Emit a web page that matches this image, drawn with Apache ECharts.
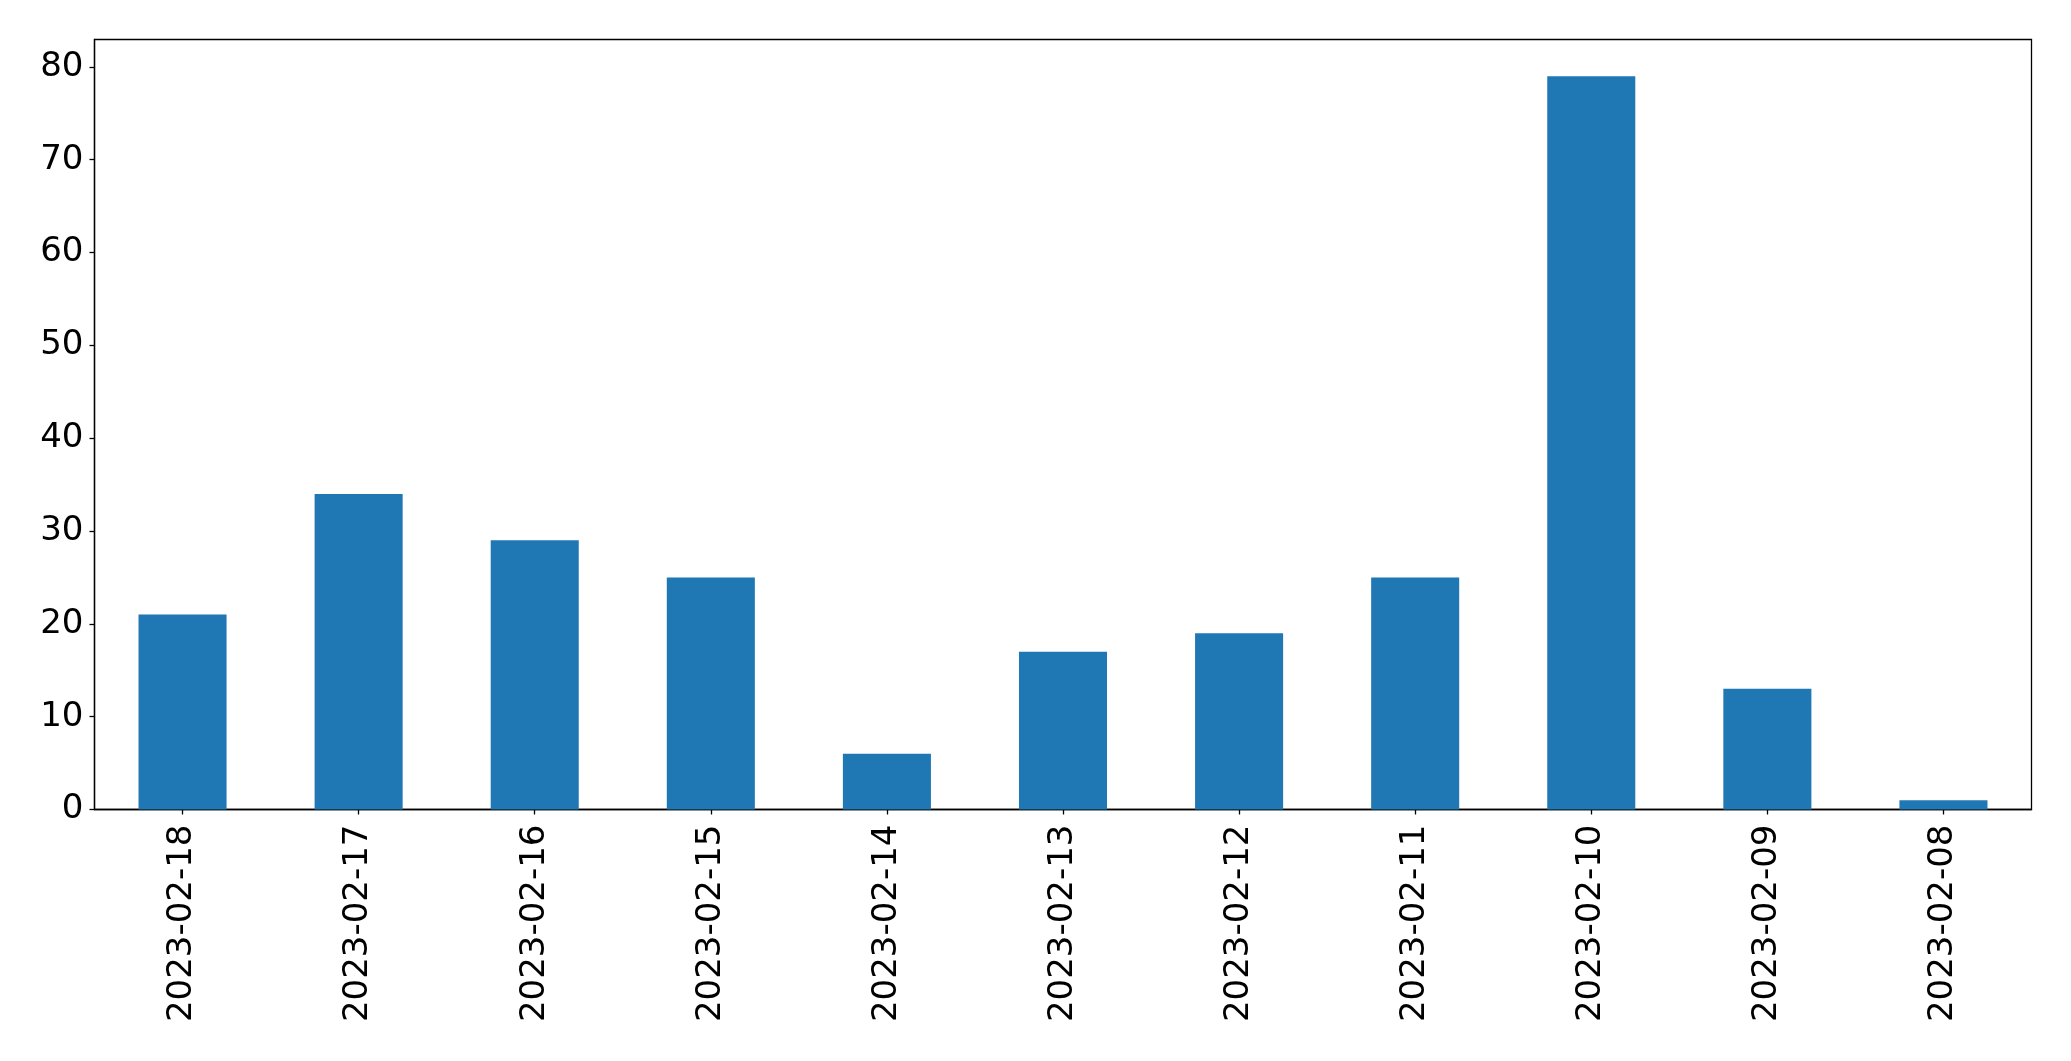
<!DOCTYPE html>
<html>
<head>
<meta charset="utf-8">
<script src="https://cdn.jsdelivr.net/npm/echarts@6/dist/echarts.min.js"></script>
<style>html,body{margin:0;padding:0;background:#fff;}#c{width:2071px;height:1061px;}</style>
</head>
<body>
<div id="c"></div>
<script>
var categories = ['2023-02-18','2023-02-17','2023-02-16','2023-02-15','2023-02-14','2023-02-13','2023-02-12','2023-02-11','2023-02-10','2023-02-09','2023-02-08'];
var values = [21, 34, 29, 25, 6, 17, 19, 25, 79, 13, 1];
var yMax = 82.95;

var chart = echarts.init(document.getElementById('c'), null, {renderer: 'canvas'});
chart.setOption({
  animation: false,
  backgroundColor: '#fff',
  grid: {
    left: 94.5, right: 39.5, top: 39.5, bottom: 251.5,
    show: true, borderColor: '#000', borderWidth: 1.3, backgroundColor: 'transparent'
  },
  xAxis: {
    type: 'category',
    data: categories,
    boundaryGap: true,
    axisLine: {show: true, lineStyle: {color: '#000', width: 1.3}},
    axisTick: {show: true, alignWithLabel: true, length: 5, lineStyle: {color: '#000', width: 1.3}},
    axisLabel: {rotate: 90, margin: 15, color: '#000', fontFamily: 'DejaVu Sans', fontSize: 34, interval: 0}
  },
  yAxis: {
    type: 'value',
    min: 0, max: yMax, interval: 10,
    splitLine: {show: false},
    axisLine: {show: true, lineStyle: {color: '#000', width: 1.3}},
    axisTick: {show: true, length: 5, lineStyle: {color: '#000', width: 1.3}},
    axisLabel: {color: '#000', fontFamily: 'DejaVu Sans', fontSize: 34, margin: 11,
      showMaxLabel: false,
      formatter: function(v){ return v % 10 === 0 ? String(v) : ''; }}
  },
  series: [{
    type: 'bar',
    data: values,
    barWidth: '50%',
    itemStyle: {color: '#1f77b4'}
  }]
});
</script>
</body>
</html>
